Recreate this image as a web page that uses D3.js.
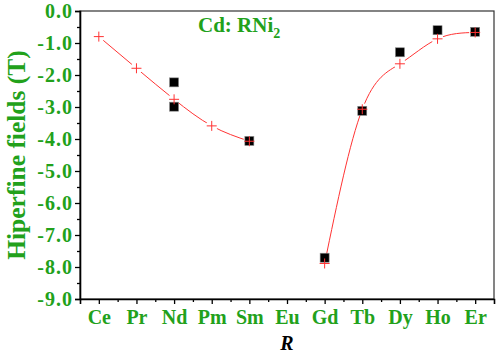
<!DOCTYPE html>
<html>
<head>
<meta charset="utf-8">
<script src="https://cdn.jsdelivr.net/npm/d3@7"></script>
<style>
  body { margin: 0; background: #fff; }
  text { font-family: "Liberation Serif", "Times New Roman", serif; font-weight: bold; }
</style>
</head>
<body>
<script>
const W = 499, H = 353;
const green = "#22a11b";

// categories along x
const elements = ["Ce", "Pr", "Nd", "Pm", "Sm", "Eu", "Gd", "Tb", "Dy", "Ho", "Er"];
// calculated values (red crosses + line), two branches
const calcLight = [["Ce", -0.80], ["Pr", -1.79], ["Nd", -2.76], ["Pm", -3.59], ["Sm", -4.07]];
const calcHeavy = [["Gd", -7.89], ["Tb", -3.07], ["Dy", -1.65], ["Ho", -0.87], ["Er", -0.67]];
// experimental values (black squares)
const expData = [["Nd", -2.23], ["Nd", -2.99], ["Sm", -4.06], ["Gd", -7.71], ["Tb", -3.12], ["Dy", -1.29], ["Ho", -0.60], ["Er", -0.65]];
const yTicks = [0, -1, -2, -3, -4, -5, -6, -7, -8, -9];

const m = {left: 80, right: 5, top: 11, bottom: 54};

const svg = d3.select("body").append("svg")
    .attr("width", W)
    .attr("height", H);

const x = d3.scaleLinear()
    .domain([-0.5, elements.length - 0.5])
    .range([m.left, W - m.right]);
const xi = (name) => x(elements.indexOf(name));

const y = d3.scaleLinear()
    .domain([-9, 0])
    .range([H - m.bottom, m.top]);

// frame
svg.append("rect")
    .attr("x", m.left).attr("y", m.top)
    .attr("width", W - m.right - m.left)
    .attr("height", H - m.bottom - m.top)
    .attr("fill", "none")
    .attr("stroke", "#333")
    .attr("stroke-width", 1.2);

// y axis
const yAxis = svg.append("g")
    .attr("transform", `translate(${m.left},0)`)
    .call(d3.axisLeft(y).tickValues(yTicks).tickFormat(d3.format(".1f")).tickSize(5));
svg.append("g")
    .attr("transform", `translate(${m.left},0)`)
    .call(d3.axisLeft(y).tickValues(yTicks.slice(1).map(v => v + 0.5)).tickFormat("").tickSize(3))
    .select(".domain").remove();
yAxis.selectAll("text")
    .attr("fill", green)
    .attr("font-size", 20)
    .attr("letter-spacing", 1)
    .attr("x", -7)
    .text(d => d3.format(".1f")(d).replace("−", "-"));

// x axis
const xAxis = svg.append("g")
    .attr("transform", `translate(0,${H - m.bottom})`)
    .call(d3.axisBottom(x).tickValues(d3.range(elements.length)).tickFormat(i => elements[i]).tickSize(5));
svg.append("g")
    .attr("transform", `translate(0,${H - m.bottom})`)
    .call(d3.axisBottom(x).tickValues(d3.range(elements.length - 1).map(i => i + 0.5)).tickFormat("").tickSize(3))
    .select(".domain").remove();
xAxis.selectAll("text")
    .attr("fill", green)
    .attr("font-size", 20)
    .attr("y", 11);

svg.selectAll(".domain").attr("stroke", "#000").attr("stroke-width", 1.6);
svg.selectAll(".tick line").attr("stroke", "#000").attr("stroke-width", 1.3);

// axis titles
svg.append("text")
    .attr("transform", `translate(25,${(m.top + H - m.bottom) / 2}) rotate(-90)`)
    .attr("text-anchor", "middle")
    .attr("fill", green)
    .attr("font-size", 25.5)
    .text("Hiperfine fields (T)");

svg.append("text")
    .attr("x", xi("Eu"))
    .attr("y", 350)
    .attr("text-anchor", "middle")
    .attr("font-style", "italic")
    .attr("font-size", 20)
    .attr("fill", "#000")
    .text("R");

const title = svg.append("text")
    .attr("x", 198)
    .attr("y", 32)
    .attr("fill", green)
    .attr("font-size", 21);
title.append("tspan").text("Cd: RNi");
title.append("tspan").attr("font-size", 14).attr("dy", 6).text("2");

// line with small gaps around the crosses
const defs = svg.append("defs");
const mask = defs.append("mask").attr("id", "gaps");
mask.append("rect").attr("width", W).attr("height", H).attr("fill", "#fff");
mask.selectAll("circle")
    .data(calcLight.concat(calcHeavy))
    .join("circle")
    .attr("cx", d => xi(d[0]))
    .attr("cy", d => y(d[1]))
    .attr("r", 6)
    .attr("fill", "#000");

const line = d3.line()
    .x(d => xi(d[0]))
    .y(d => y(d[1]))
    .curve(d3.curveNatural);

svg.append("g").attr("mask", "url(#gaps)")
    .selectAll("path")
    .data([calcLight, calcHeavy])
    .join("path")
    .attr("d", line)
    .attr("fill", "none")
    .attr("stroke", "#ff3333")
    .attr("stroke-width", 1);

// black squares
svg.selectAll(".sq")
    .data(expData)
    .join("rect")
    .attr("class", "sq")
    .attr("x", d => xi(d[0]) - 4.5)
    .attr("y", d => y(d[1]) - 4.5)
    .attr("width", 9)
    .attr("height", 9)
    .attr("fill", "#000")
    .attr("stroke", "#888")
    .attr("stroke-width", 0.6);

// red crosses
const crossSize = 5;
svg.selectAll(".cr")
    .data(calcLight.concat(calcHeavy))
    .join("path")
    .attr("class", "cr")
    .attr("d", d => {
        const cx = xi(d[0]), cy = y(d[1]);
        return `M${cx - crossSize},${cy}H${cx + crossSize}M${cx},${cy - crossSize}V${cy + crossSize}`;
    })
    .attr("stroke", "#ff3333")
    .attr("stroke-width", 1)
    .attr("fill", "none");
</script>
</body>
</html>
